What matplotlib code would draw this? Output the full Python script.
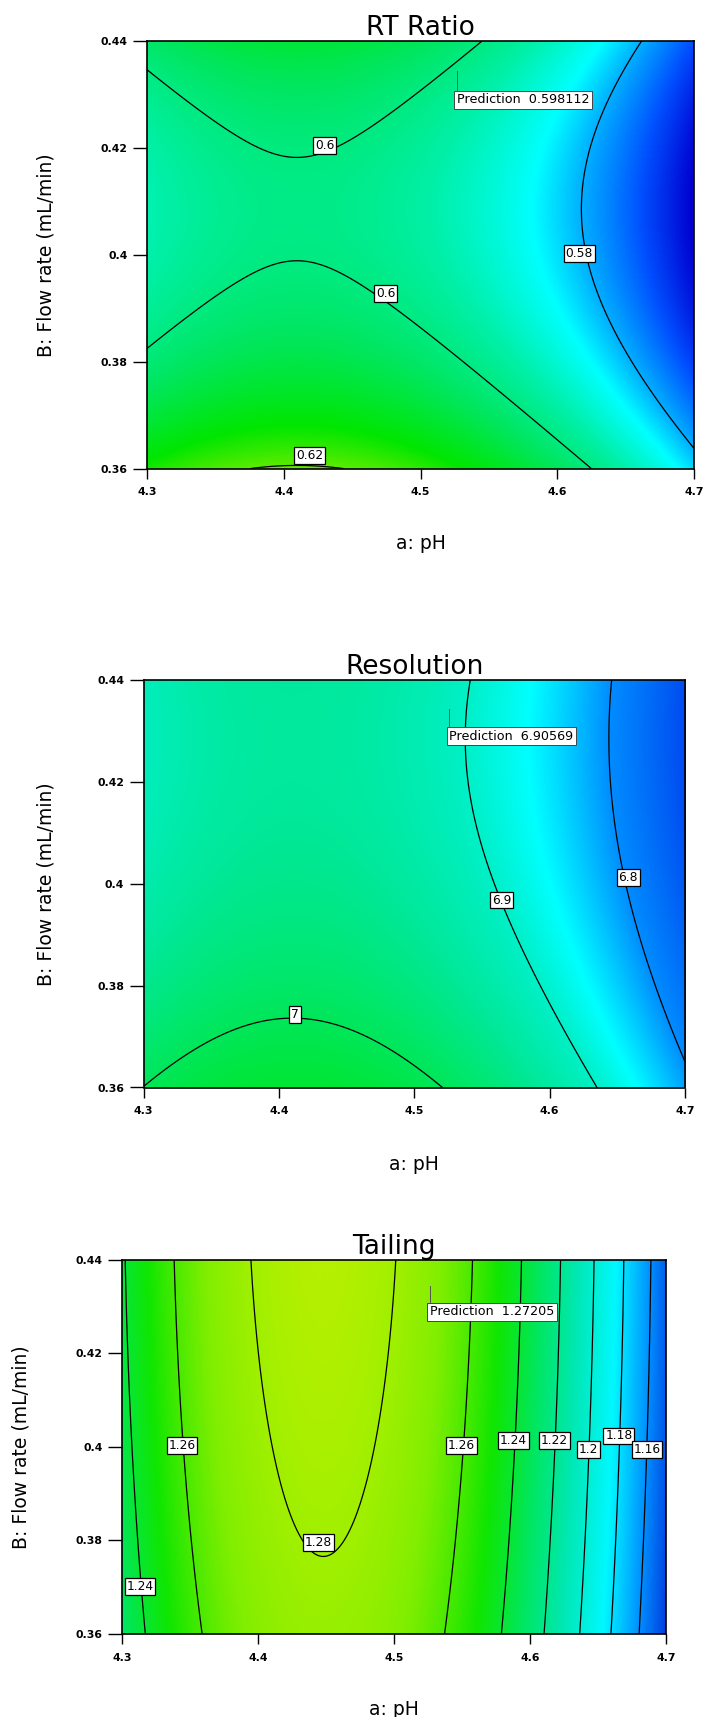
import matplotlib
matplotlib.use("Agg")
import matplotlib.pyplot as plt
import numpy as np
from matplotlib.colors import LinearSegmentedColormap

# ---- data -------------------------------------------------------------
ph_range = [4.3, 4.7]
flow_range = [0.36, 0.44]
ph_ticks = [4.3, 4.4, 4.5, 4.6, 4.7]
ph_ticklabels = ["4.3", "4.4", "4.5", "4.6", "4.7"]
flow_ticks = [0.36, 0.38, 0.40, 0.42, 0.44]
flow_ticklabels = ["0.36", "0.38", "0.4", "0.42", "0.44"]

titles = ["RT Ratio", "Resolution", "Tailing"]

# fitted quadratic models, coded units (A = pH, B = flow)
# order: b0, A, B, AB, A^2, B^2
rt_coef = [0.5962, -0.0160, -0.0062, 0.0, -0.0177, 0.0145]
res_coef = [6.9369, -0.0939, -0.0435, 0.0, -0.1043, 0.0305]
tail_coef = [1.2772, -0.0452, 0.00445, 0.0, -0.0870, -0.00135]

rt_levels = [0.58, 0.60, 0.62]
res_levels = [6.8, 6.9, 7.0]
tail_levels = [1.16, 1.18, 1.20, 1.22, 1.24, 1.26, 1.28]

# which level each contour label shows
rt_label_lvl = [0.60, 0.60, 0.58, 0.62]
res_label_lvl = [7.0, 6.9, 6.8]
tail_label_lvl = [1.24, 1.26, 1.28, 1.26, 1.24, 1.22, 1.20, 1.18, 1.16]

# flagged prediction point
pred_ph = [4.5265, 4.5259, 4.5262]
pred_flow = [0.4343, 0.4343, 0.4343]
pred_value = ["0.598112", "6.90569", "1.27205"]

# ---- layout / style ---------------------------------------------------
rt_label_pos = [(4.430, 0.4205), (4.4745, 0.3927), (4.616, 0.4002), (4.419, 0.3625)]
res_label_pos = [(4.412, 0.3743), (4.5644, 0.3968), (4.658, 0.4012)]
tail_label_pos = [(4.3132, 0.3702), (4.3441, 0.40025), (4.4443, 0.3796),
                  (4.5496, 0.40025), (4.5879, 0.40134), (4.618, 0.40134),
                  (4.6429, 0.39941), (4.6654, 0.4023), (4.686, 0.39941)]

W, H = 703, 1717
rects_px = [(147, 41, 694, 468.6), (143.5, 680, 685, 1087.5), (122, 1259.5, 666, 1634)]
ylab_right_px = [56, 56, 31]
xlab_top_px = [534, 1155, 1700]

# colour stops (response value, colour) per panel
color_stops = [
    [(0.562, "#0000d0"), (0.571, "#0050ff"), (0.580, "#00b0ff"), (0.586, "#00ffff"),
     (0.595, "#00f0a8"), (0.604, "#00e660"), (0.614, "#00e600"), (0.6205, "#60ec00")],
    [(6.72, "#0048f0"), (6.80, "#008cff"), (6.864, "#00ffff"), (6.90, "#00f0c8"),
     (6.95, "#00e896"), (7.035, "#00e630")],
    [(1.139, "#0040e0"), (1.16, "#0090ff"), (1.185, "#00f8ff"), (1.21, "#00e8b4"),
     (1.23, "#00e664"), (1.25, "#10e600"), (1.27, "#80ee00"), (1.2865, "#b4f000")],
]

plt.rcParams["font.family"] = "DejaVu Sans"


def quad(c, ph, flow):
    a = (ph - 4.5) / 0.2
    b = (flow - 0.40) / 0.04
    return c[0] + c[1] * a + c[2] * b + c[3] * a * b + c[4] * a * a + c[5] * b * b


def make_cmap(stops):
    lo, hi = stops[0][0], stops[-1][0]
    cm = LinearSegmentedColormap.from_list(
        "dx", [((v - lo) / (hi - lo), c) for v, c in stops])
    return cm, lo, hi


fig = plt.figure(figsize=(W / 100, H / 100), dpi=100)

panels = [
    (rt_coef, rt_levels, rt_label_lvl, rt_label_pos),
    (res_coef, res_levels, res_label_lvl, res_label_pos),
    (tail_coef, tail_levels, tail_label_lvl, tail_label_pos),
]

ph = np.linspace(ph_range[0], ph_range[1], 400)
flow = np.linspace(flow_range[0], flow_range[1], 400)
P, F = np.meshgrid(ph, flow)

for i, (coef, levels, lab_lvl, lab_pos) in enumerate(panels):
    l, t, r, b = rects_px[i]
    ax = fig.add_axes([l / W, 1 - b / H, (r - l) / W, (b - t) / H])
    Z = quad(coef, P, F)
    cm, vmin, vmax = make_cmap(color_stops[i])
    ax.imshow(Z, extent=[ph_range[0], ph_range[1], flow_range[0], flow_range[1]],
              origin="lower", aspect="auto", cmap=cm, vmin=vmin, vmax=vmax,
              interpolation="bilinear")
    ax.contour(P, F, Z, levels=levels, colors="k", linewidths=0.9)

    for lv, (x, y) in zip(lab_lvl, lab_pos):
        ax.text(x, y, f"{lv:g}", ha="center", va="center", fontsize=8.8,
                bbox=dict(facecolor="white", edgecolor="black", linewidth=0.9,
                          boxstyle="square,pad=0.15"), zorder=5)

    # prediction flag
    px, py = pred_ph[i], pred_flow[i]
    drop = 0.0041
    ax.plot([px, px], [py, py - drop], color="#555555", lw=0.7, zorder=5)
    ax.text(px, py - drop, f"Prediction  {pred_value[i]}", ha="left", va="top",
            fontsize=9.2,
            bbox=dict(facecolor="white", edgecolor="#444444", linewidth=0.7,
                      boxstyle="square,pad=0.2"), zorder=6)

    ax.set_xlim(ph_range)
    ax.set_ylim(flow_range)
    ax.set_xticks(ph_ticks)
    ax.set_xticklabels(ph_ticklabels, fontsize=7.8, fontweight="bold")
    ax.set_yticks(flow_ticks)
    ax.set_yticklabels(flow_ticklabels, fontsize=7.8, fontweight="bold")
    ax.tick_params(axis="x", direction="out", length=7.5, width=1.0, pad=6)
    ax.tick_params(axis="y", direction="out", length=10, width=1.0, pad=4)
    for s in ax.spines.values():
        s.set_linewidth(1.2)

    ax.set_title(titles[i], fontsize=19, pad=4)
    ax.set_xlabel("a: pH", fontsize=13.5)
    ax.set_ylabel("B: Flow rate (mL/min)", fontsize=13.5)
    ax.yaxis.set_label_coords(-(l - ylab_right_px[i]) / (r - l), 0.5)
    ax.xaxis.set_label_coords(0.5, -(xlab_top_px[i] - b) / (b - t))

fig.savefig("out.png", dpi=100, facecolor="white")
